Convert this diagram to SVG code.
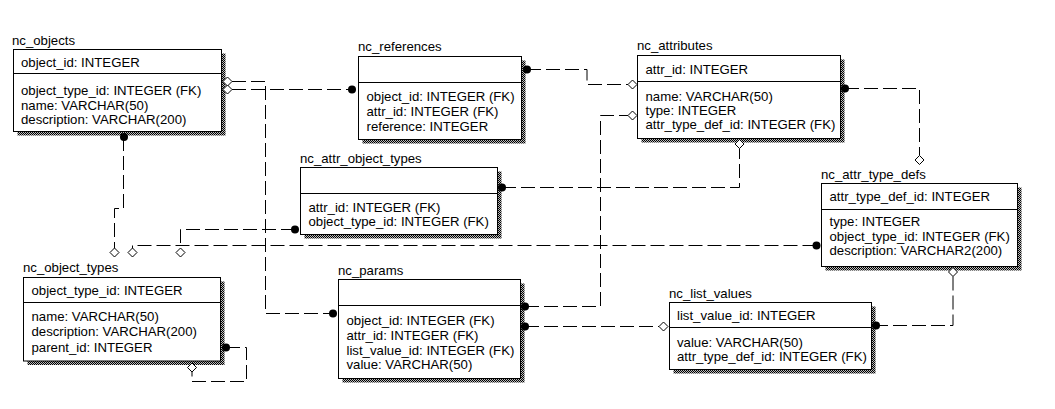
<svg xmlns="http://www.w3.org/2000/svg" width="1055" height="409" viewBox="0 0 1055 409">
<defs>
<pattern id="hatch" width="2" height="2" patternUnits="userSpaceOnUse"><rect width="2" height="2" fill="#bbb"/><rect width="1" height="1" fill="#000"/><rect x="1" y="1" width="1" height="1" fill="#000"/></pattern>
<style>
text{font-family:"Liberation Sans",Arial,sans-serif;font-size:13.2px;fill:#000}
.box{fill:#fff;stroke:#000;stroke-width:1}
.shadow{fill:url(#hatch);stroke:none}
.div{stroke:#000;stroke-width:1}
.rel{fill:none;stroke:#000;stroke-width:1;stroke-dasharray:14 5}
.dot{fill:#000}
.dia{fill:#fff;stroke:#000;stroke-width:1}
</style>
</defs>
<rect width="1055" height="409" fill="#fff"/>

<g id="nc_objects">
<text x="12" y="44.5">nc_objects</text>
<rect class="shadow" x="17.5" y="53.5" width="208" height="82"/>
<rect class="box" x="13.5" y="49.5" width="208" height="82"/>
<line class="div" x1="13.5" y1="73.5" x2="221.5" y2="73.5"/>
<text x="21" y="67">object_id: INTEGER</text>
<text x="21" y="95">object_type_id: INTEGER (FK)</text>
<text x="21" y="109.5">name: VARCHAR(50)</text>
<text x="21" y="124">description: VARCHAR(200)</text>
</g>

<g id="nc_references">
<text x="358" y="51">nc_references</text>
<rect class="shadow" x="362.5" y="60.5" width="163" height="83"/>
<rect class="box" x="358.5" y="56.5" width="163" height="83"/>
<line class="div" x1="358.5" y1="82.5" x2="521.5" y2="82.5"/>
<text x="366.5" y="101">object_id: INTEGER (FK)</text>
<text x="366.5" y="115.5">attr_id: INTEGER (FK)</text>
<text x="366.5" y="130.5">reference: INTEGER</text>
</g>

<g id="nc_attributes">
<text x="637" y="49.5">nc_attributes</text>
<rect class="shadow" x="641.5" y="59.5" width="203" height="83"/>
<rect class="box" x="637.5" y="55.5" width="203" height="83"/>
<line class="div" x1="637.5" y1="81.5" x2="840.5" y2="81.5"/>
<text x="645.5" y="73.5">attr_id: INTEGER</text>
<text x="645.5" y="100.5">name: VARCHAR(50)</text>
<text x="645.5" y="114.5">type: INTEGER</text>
<text x="645.5" y="129">attr_type_def_id: INTEGER (FK)</text>
</g>

<g id="nc_attr_object_types">
<text x="300" y="162.5">nc_attr_object_types</text>
<rect class="shadow" x="304.5" y="171.5" width="197" height="67"/>
<rect class="box" x="300.5" y="167.5" width="197" height="67"/>
<line class="div" x1="300.5" y1="193.5" x2="497.5" y2="193.5"/>
<text x="308.5" y="212">attr_id: INTEGER (FK)</text>
<text x="308.5" y="226">object_type_id: INTEGER (FK)</text>
</g>

<g id="nc_attr_type_defs">
<text x="821" y="178.5">nc_attr_type_defs</text>
<rect class="shadow" x="825.5" y="187.5" width="196" height="83"/>
<rect class="box" x="821.5" y="183.5" width="196" height="83"/>
<line class="div" x1="821.5" y1="209.5" x2="1017.5" y2="209.5"/>
<text x="829.5" y="201">attr_type_def_id: INTEGER</text>
<text x="829.5" y="226">type: INTEGER</text>
<text x="829.5" y="240.5">object_type_id: INTEGER (FK)</text>
<text x="829.5" y="254.5">description: VARCHAR2(200)</text>
</g>

<g id="nc_object_types">
<text x="23" y="271.5">nc_object_types</text>
<rect class="shadow" x="27.5" y="281.5" width="197" height="83.5"/>
<rect class="box" x="23.5" y="277.5" width="197" height="83.5"/>
<line class="div" x1="23.5" y1="302.5" x2="220.5" y2="302.5"/>
<text x="31.5" y="295">object_type_id: INTEGER</text>
<text x="31.5" y="321">name: VARCHAR(50)</text>
<text x="31.5" y="336">description: VARCHAR(200)</text>
<text x="31.5" y="351.5">parent_id: INTEGER</text>
</g>

<g id="nc_params">
<text x="338" y="274.5">nc_params</text>
<rect class="shadow" x="342.5" y="283.5" width="182" height="99"/>
<rect class="box" x="338.5" y="279.5" width="182" height="99"/>
<line class="div" x1="338.5" y1="305.5" x2="520.5" y2="305.5"/>
<text x="346.5" y="324.5">object_id: INTEGER (FK)</text>
<text x="346.5" y="339.5">attr_id: INTEGER (FK)</text>
<text x="346.5" y="354.5">list_value_id: INTEGER (FK)</text>
<text x="346.5" y="369">value: VARCHAR(50)</text>
</g>

<g id="nc_list_values">
<text x="669" y="297.5">nc_list_values</text>
<rect class="shadow" x="673.5" y="306.5" width="202" height="67"/>
<rect class="box" x="669.5" y="302.5" width="202" height="67"/>
<line class="div" x1="669.5" y1="327.5" x2="871.5" y2="327.5"/>
<text x="677" y="319.5">list_value_id: INTEGER</text>
<text x="677" y="347">value: VARCHAR(50)</text>
<text x="677" y="361">attr_type_def_id: INTEGER (FK)</text>
</g>

<g id="connectors">
<path class="rel" d="M232 81.5H265.5V313.5H333"/>
<path class="rel" d="M232 89.5H352"/>
<path class="rel" d="M123.5 137V208.5H114.5V248"/>
<path class="rel" d="M816.5 245.5H132.5V248"/>
<path class="rel" d="M295 229.5H180.5V248"/>
<path class="rel" d="M502 187.5H739.5V148.5"/>
<path class="rel" d="M525 306.5H600.5V115.5H628"/>
<path class="rel" d="M525 326.5H659"/>
<path class="rel" d="M527 69.5H587V84.5H628"/>
<path class="rel" d="M845 88.5H919.5V155.5"/>
<path class="rel" d="M953 276.5V325.5H876"/>
<path class="rel" d="M226 347.5H246.5V381.5H192V372"/>

<path class="dia" d="M223 81.5l4.5-4.5 4.5 4.5-4.5 4.5z"/>
<path class="dia" d="M223 89.5l4.5-4.5 4.5 4.5-4.5 4.5z"/>
<path class="dia" d="M114.5 248l4.5 4.5-4.5 4.5-4.5-4.5z"/>
<path class="dia" d="M132.5 248l4.5 4.5-4.5 4.5-4.5-4.5z"/>
<path class="dia" d="M180.5 248l4.5 4.5-4.5 4.5-4.5-4.5z"/>
<path class="dia" d="M739.5 139.5l4.5 4.5-4.5 4.5-4.5-4.5z"/>
<path class="dia" d="M628 115.5l4.5-4.5 4.5 4.5-4.5 4.5z"/>
<path class="dia" d="M628 84.5l4.5-4.5 4.5 4.5-4.5 4.5z"/>
<path class="dia" d="M659 326.5l4.5-4.5 4.5 4.5-4.5 4.5z"/>
<path class="dia" d="M919.5 155.5l4.5 4.5-4.5 4.5-4.5-4.5z"/>
<path class="dia" d="M953 267.5l4.5 4.5-4.5 4.5-4.5-4.5z"/>
<path class="dia" d="M192 363l4.5 4.5-4.5 4.5-4.5-4.5z"/>

<circle class="dot" cx="124" cy="137" r="4"/>
<circle class="dot" cx="352" cy="89.5" r="4"/>
<circle class="dot" cx="333" cy="313.5" r="4"/>
<circle class="dot" cx="816.5" cy="245.5" r="4"/>
<circle class="dot" cx="295" cy="229.5" r="4"/>
<circle class="dot" cx="502" cy="187.5" r="4"/>
<circle class="dot" cx="525" cy="306.5" r="4"/>
<circle class="dot" cx="525" cy="326.5" r="4"/>
<circle class="dot" cx="527" cy="69.5" r="4"/>
<circle class="dot" cx="845" cy="88.5" r="4"/>
<circle class="dot" cx="876" cy="325.5" r="4"/>
<circle class="dot" cx="226" cy="347.5" r="4"/>
</g>
</svg>
